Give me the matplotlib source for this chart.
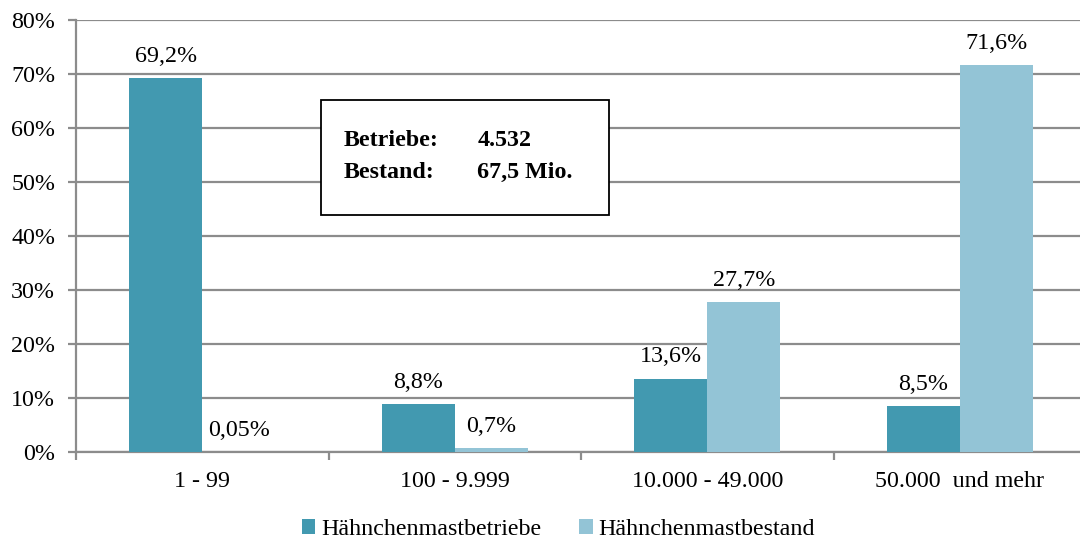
import matplotlib.pyplot as plt
from matplotlib.patches import Rectangle
import numpy as np

# Größenklassen und Anteile (in %)
klassen = ['1 - 99', '100 - 9.999', '10.000 - 49.000', '50.000  und mehr']
betriebe = [69.2, 8.8, 13.6, 8.5]
bestand = [0.05, 0.7, 27.7, 71.6]
betriebe_txt = ['69,2%', '8,8%', '13,6%', '8,5%']
bestand_txt = ['0,05%', '0,7%', '27,7%', '71,6%']
y_ticks = [0, 10, 20, 30, 40, 50, 60, 70, 80]

farbe_betriebe = '#4299b0'
farbe_bestand = '#93c4d6'
grau = '#8c8c8c'
fs = 17.3

plt.rcParams['font.family'] = ['Liberation Serif', 'DejaVu Serif']

fig = plt.figure(figsize=(10.8, 5.43), dpi=100)
ax = fig.add_axes([76 / 1080, 1 - 452 / 543, 1010 / 1080, 432 / 543])

x = np.arange(len(klassen))
b = 0.29
bars1 = ax.bar(x - b / 2, betriebe, b, color=farbe_betriebe, label='Hähnchenmastbetriebe', zorder=3)
bars2 = ax.bar(x + b / 2, bestand, b, color=farbe_bestand, label='Hähnchenmastbestand', zorder=3)

for balken, txt in zip(bars1, betriebe_txt):
    ax.annotate(txt, (balken.get_x() + balken.get_width() / 2, balken.get_height()),
                xytext=(0, 8), textcoords='offset points', ha='center', va='bottom', fontsize=fs)
for balken, txt in zip(bars2, bestand_txt):
    ax.annotate(txt, (balken.get_x() + balken.get_width() / 2, balken.get_height()),
                xytext=(0, 8), textcoords='offset points', ha='center', va='bottom', fontsize=fs)

ax.set_xlim(-0.5, 3.5)
ax.set_ylim(0, 80)
ax.set_yticks(y_ticks)
ax.set_yticklabels([f'{v}%' for v in y_ticks], fontsize=fs)
ax.yaxis.grid(True, color=grau, linewidth=1.6, zorder=0)
ax.tick_params(axis='y', length=6, width=1.6, color=grau, pad=9)

ax.set_xticks(x)
ax.set_xticklabels(klassen, fontsize=fs)
ax.set_xticks([-0.5, 0.5, 1.5, 2.5], minor=True)
ax.tick_params(axis='x', which='major', length=0, pad=14)
ax.tick_params(axis='x', which='minor', length=6, width=1.6, color=grau)

for s in ['top', 'right']:
    ax.spines[s].set_visible(False)
ax.spines['left'].set_color(grau)
ax.spines['left'].set_linewidth(1.6)
ax.spines['bottom'].set_color(grau)
ax.spines['bottom'].set_linewidth(1.6)

# Infokasten mit Gesamtzahlen
ax.add_patch(Rectangle((0.47, 43.9), 1.14, 21.3, facecolor='white', edgecolor='black',
                       linewidth=1.3, zorder=4))
ax.text(0.56, 57.6, 'Betriebe:', fontsize=fs, fontweight='bold', va='center', zorder=5)
ax.text(1.09, 57.6, '4.532', fontsize=fs, fontweight='bold', va='center', zorder=5)
ax.text(0.56, 51.7, 'Bestand:', fontsize=fs, fontweight='bold', va='center', zorder=5)
ax.text(1.09, 51.7, '67,5 Mio.', fontsize=fs, fontweight='bold', va='center', zorder=5)

fig.legend(loc='lower center', bbox_to_anchor=(0.517, -0.034), ncol=2, frameon=False, fontsize=fs,
           handlelength=0.55, handleheight=0.55, handletextpad=0.25, columnspacing=1.6)

fig.savefig('out.png', dpi=100)
